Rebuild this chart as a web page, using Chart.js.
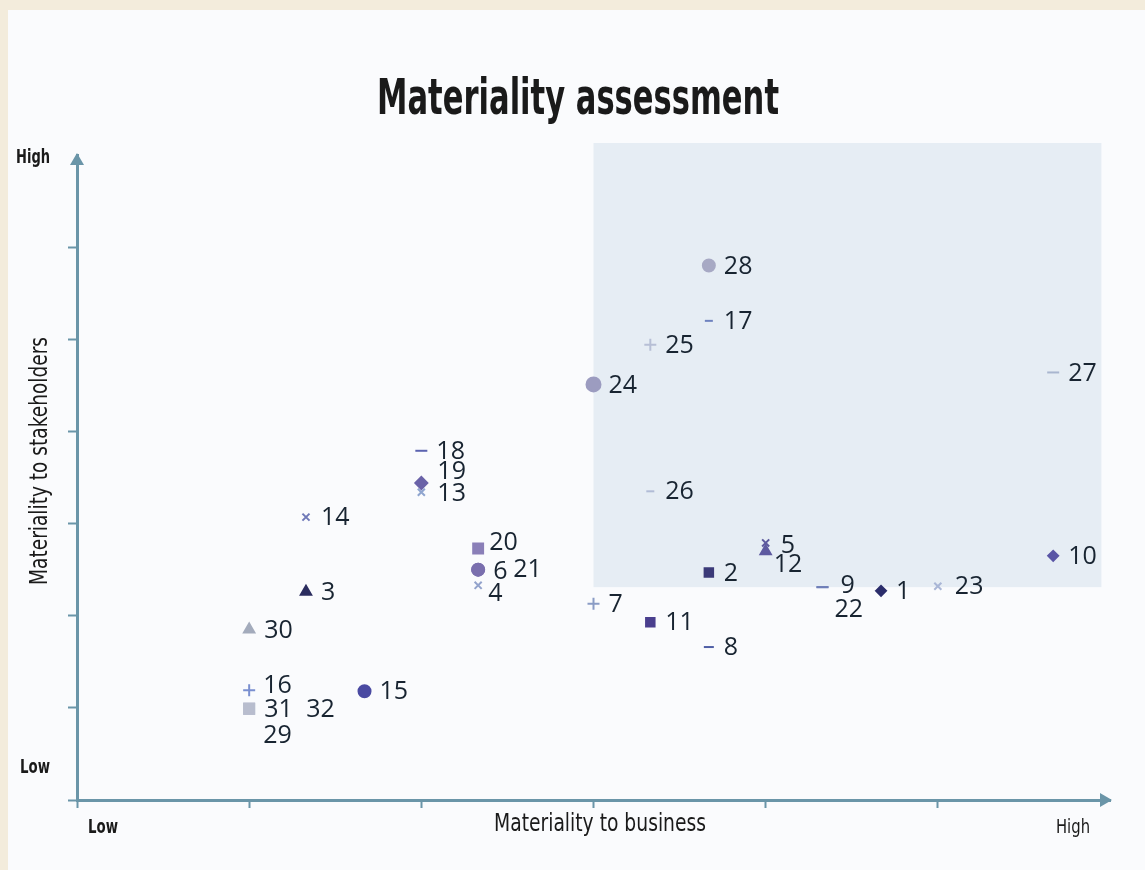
<!DOCTYPE html>
<html>
<head>
<meta charset="utf-8">
<script src="https://cdn.jsdelivr.net/npm/chart.js"></script>
<style>
  html, body { margin: 0; padding: 0; background: #f3ecdc; }
  canvas { display: block; }
</style>
</head>
<body>
<canvas id="materiality" width="1145" height="870"></canvas>
<script>
// issue numbers and their scores (0 = low, 6 = high)
var issues = [1, 2, 3, 4, 5, 6, 7, 8, 9, 10, 11, 12, 13, 14, 15, 16,
              17, 18, 19, 20, 21, 22, 23, 24, 25, 26, 27, 28, 29, 30, 31, 32];
var business = [4.67, 3.67, 1.33, 2.33, 4.0, 2.33, 3.0, 3.67, 4.33, 5.67, 3.33, 4.0, 2.0, 1.33, 1.67, 1.0,
                3.67, 2.0, 2.0, 2.33, 2.33, 4.33, 5.0, 3.0, 3.33, 3.33, 5.67, 3.67, 1.0, 1.0, 1.0, 1.0];
var stakeholders = [2.27, 2.47, 2.26, 2.33, 2.79, 2.50, 2.13, 1.66, 2.31, 2.65, 1.93, 2.70, 3.34, 3.07, 1.18, 1.19,
                    5.20, 3.79, 3.44, 2.73, 2.50, 2.31, 2.32, 4.51, 4.94, 3.35, 4.64, 5.80, 0.99, 1.85, 0.99, 0.99];

// top-right priority zone, in axis units
var zoneX = [3.0, 5.95];
var zoneY = [2.31, 7.13];

// marker look per issue
var markerShapes = ['rectRot', 'rect', 'triangle', 'crossRot', 'crossRot', 'circle', 'cross', 'line',
                    'line', 'rectRot', 'rect', 'triangle', 'crossRot', 'crossRot', 'circle', 'cross',
                    'line', 'line', 'rectRot', 'rect', 'circle', 'line', 'crossRot', 'circle',
                    'cross', 'line', 'line', 'circle', 'rect', 'triangle', 'rect', 'rect'];
var markerColors = ['#2b2d6b', '#3b3a78', '#2b2d5f', '#93a3cc', '#5e5a9e', '#7a6fae', '#8a9cc5', '#4f5fa6',
                    '#6f7fb8', '#5a56a6', '#4a3f8e', '#5e5aa0', '#8fa5cf', '#6f79b8', '#4a4aa2', '#7a8fd0',
                    '#6e82bf', '#5b63b0', '#6a62a8', '#8a7fb8', '#7a6fae', '#6f7fb8', '#a9b6d6', '#9c9cc0',
                    '#b7bfd5', '#b1bcd6', '#a9b6cf', '#a7a9c4', '#b8bdce', '#a3abbc', '#b8bdce', '#b8bdce'];
var markerSizes = [5, 6, 6, 5, 5, 6, 6, 5, 6, 5, 6, 6, 5, 5, 6, 6,
                   4, 6, 6, 7, 6, 6, 5, 7, 6, 4, 6, 6, 7, 6, 7, 7];

// where each number sits next to its marker
var labelNudge = {
  4: [10, 9], 5: [15, 3], 6: [15, 2], 9: [18, -1], 12: [8, 14], 13: [16, 2], 16: [14, -4],
  19: [16, -11], 20: [11, -6], 21: [35, 0], 22: [12, 23], 23: [17, 1], 29: [14, 27], 32: [57, 1]
};

var axisColor = '#6a95a8';
var narrow = '"DejaVu Sans Condensed", "DejaVu Sans", sans-serif';

var points = business.map(function (b, i) {
  return { x: b, y: stakeholders[i] };
});

// squeeze text horizontally to a set width (the original uses a condensed face)
function fitText(ctx, text, x, y, width, angle) {
  var w = ctx.measureText(text).width;
  ctx.save();
  ctx.translate(x, y);
  if (angle) ctx.rotate(angle);
  ctx.scale(width / w, 1);
  ctx.fillText(text, 0, 0);
  ctx.restore();
}

var backdrop = {
  id: 'backdrop',
  beforeDraw: function (chart) {
    var ctx = chart.ctx;
    ctx.save();
    ctx.fillStyle = '#f3ecdc';
    ctx.fillRect(0, 0, chart.width, chart.height);
    ctx.fillStyle = '#fafbfd';
    ctx.fillRect(8, 10, chart.width - 8, chart.height - 10);
    var xs = chart.scales.x, ys = chart.scales.y;
    var left = xs.getPixelForValue(zoneX[0]), right = xs.getPixelForValue(zoneX[1]);
    var top = ys.getPixelForValue(zoneY[1]), bottom = ys.getPixelForValue(zoneY[0]);
    ctx.fillStyle = '#e6edf4';
    ctx.fillRect(left, top, right - left, bottom - top);
    ctx.restore();
  }
};

var decorations = {
  id: 'decorations',
  afterDraw: function (chart) {
    var ctx = chart.ctx;
    var area = chart.chartArea;
    ctx.save();
    // arrow heads
    ctx.fillStyle = axisColor;
    ctx.beginPath();
    ctx.moveTo(area.right + 2, area.bottom);
    ctx.lineTo(area.right - 10, area.bottom - 7);
    ctx.lineTo(area.right - 10, area.bottom + 7);
    ctx.closePath();
    ctx.fill();
    ctx.beginPath();
    ctx.moveTo(area.left, area.top - 2);
    ctx.lineTo(area.left - 7, area.top + 10);
    ctx.lineTo(area.left + 7, area.top + 10);
    ctx.closePath();
    ctx.fill();

    ctx.fillStyle = '#1a1a1a';
    ctx.textBaseline = 'middle';
    ctx.textAlign = 'center';

    // title
    ctx.font = 'bold 49px ' + narrow;
    fitText(ctx, 'Materiality assessment', 578, 101, 402);

    // axis titles
    ctx.font = '24px ' + narrow;
    fitText(ctx, 'Materiality to business', 600, 825, 212);
    fitText(ctx, 'Materiality to stakeholders', 41, 461, 248, -Math.PI / 2);

    // high / low ends
    ctx.font = 'bold 19px ' + narrow;
    fitText(ctx, 'High', 33, 158, 34);
    fitText(ctx, 'Low', 35, 768, 30);
    fitText(ctx, 'Low', 103, 828, 30);
    ctx.font = '19px ' + narrow;
    fitText(ctx, 'High', 1073, 828, 34);

    // issue numbers
    var meta = chart.getDatasetMeta(0);
    ctx.font = '25px "Open Sans", sans-serif';
    ctx.fillStyle = '#182431';
    ctx.textAlign = 'left';
    meta.data.forEach(function (pt, i) {
      var n = issues[i];
      var nudge = labelNudge[n] || [15, 1];
      ctx.fillText(String(n), pt.x + nudge[0], pt.y + nudge[1]);
    });
    ctx.restore();
  }
};

function hideEnds(max) {
  return function (c) {
    return c.tick && c.tick.value === max ? 'rgba(0,0,0,0)' : axisColor;
  };
}

var ctx = document.getElementById('materiality').getContext('2d');
var materialityChart = new Chart(ctx, {
  type: 'scatter',
  data: {
    datasets: [{
      data: points,
      pointStyle: markerShapes,
      pointBackgroundColor: markerColors,
      pointBorderColor: markerColors,
      pointBorderWidth: 2,
      pointRadius: markerSizes,
      pointHoverRadius: markerSizes,
      clip: false
    }]
  },
  options: {
    responsive: false,
    animation: false,
    layout: { padding: { top: 155, left: 0, right: 35, bottom: 0 } },
    plugins: {
      legend: { display: false },
      tooltip: { enabled: false },
      title: { display: false }
    },
    scales: {
      x: {
        type: 'linear',
        min: 0,
        max: 6,
        ticks: { display: false, stepSize: 1 },
        grid: { drawOnChartArea: false, drawTicks: true, tickLength: 8, tickWidth: 2, tickColor: hideEnds(6) },
        border: { color: axisColor, width: 3 },
        afterFit: function (scale) { scale.height = 70; }
      },
      y: {
        type: 'linear',
        min: 0,
        max: 7,
        ticks: { display: false, stepSize: 1 },
        grid: { drawOnChartArea: false, drawTicks: true, tickLength: 9, tickWidth: 2, tickColor: hideEnds(7) },
        border: { color: axisColor, width: 3 },
        afterFit: function (scale) { scale.width = 77; }
      }
    }
  },
  plugins: [backdrop, decorations]
});
</script>
</body>
</html>
